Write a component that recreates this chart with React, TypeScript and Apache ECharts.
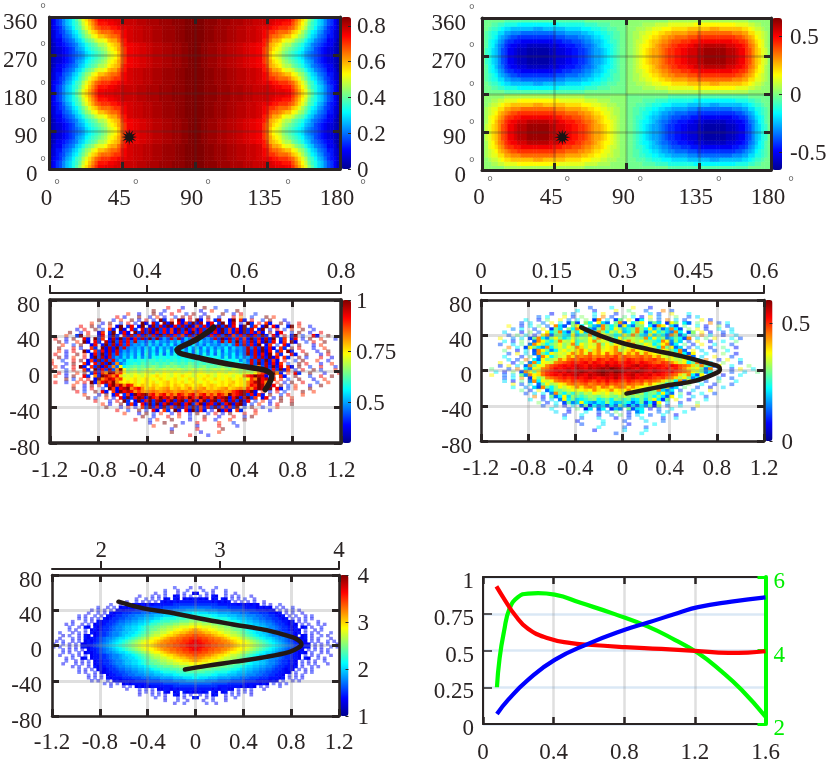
import React, { useEffect, useRef } from "react";
import * as echarts from "echarts";

const FONT = "Liberation Serif";
const INK = "#2a2424";
const JET = ["#00008f", "#0000ff", "#0080ff", "#00ffff", "#80ff80", "#ffff00", "#ff8000", "#ff0000", "#800000"];
const LEVELS = "0123456789abcdefghijklmnopqrstuvwxyz";
const HALF_LEVELS: Record<string, number> = { A: 31.5, B: 32.5, C: 33.5, D: 34.5 };

const topRatioTicks = [0.2, 0.4, 0.6, 0.8];
const topCoreTicks = [0, 0.15, 0.3, 0.45, 0.6];
const topSpeedTicks = [2, 3, 4];
const barMagnitudeTicks = [0, 0.2, 0.4, 0.6, 0.8];
const barProductTicks = [-0.5, 0, 0.5];
const barRatioTicks = [0.5, 0.75, 1];
const barCoreTicks = [0, 0.5];
const barSpeedTicks = [1, 2, 3, 4];

// top-left map: half-rows, theta 1..89 (2 deg), phi 5..85 (10 deg)
const magnitudeHalf = [
  "24679bcegilnprt" + "vvAAAwwwBBBBxxxCCCCyyyyDDDDzzz",
  "24679bcefhkmoqs" + "uuuvvAwwBBBBxxxCCCCyyyyDDDDzzz",
  "24568abdfgjlnpr" + "stttuuvvAwwBBBxxxCCCyyyyDDDzzz",
  "235679acdfhjlno" + "qrrrsttuvwwBBBxxxCCCyyyyDDDzzz",
  "2355789bcegijlm" + "oopqrrsuvwwBBBxxxCCCyyyyDDDzzz",
  "13446789bceghik" + "llmopprtuwwBBBxxxCCCyyyyDDDzzz",
  "124456789bcefgh" + "jjkmnopsuvvAAwwBBxxxCCCyyyDDzz",
  "123345679abdefg" + "hijlmnprtvvAAwwBBxxxCCCyyyDDzz",
  "1233456789acdef" + "ghiklmortvvAAwwBBxxxCCCyyyDDzz",
];

// top-right map: half-rows for theta<90, phi<180; other quadrants change sign
const productHalf = [
  "iiiiiii" + "jjjjjjjjjjjjjjjjjjjjjjjjj" + "iiiiiiiiiiiii",
  "iiijjkkllll" + "mmmmmmmmmmmmm" + "llllllll" + "kkkk" + "jjjj" + "iiiii",
  "iijkklmnn" + "ooooooo" + "ppp" + "ooooooo" + "nnnnn" + "mmm" + "lll" + "kk" + "jjj" + "iii",
  "ijkllnnppqqq" + "rrrrrrrrrrr" + "qqq" + "ppppp" + "oo" + "nn" + "mm" + "ll" + "kk" + "jj" + "ii",
  "ijklmopqrss" + "tttttttttttt" + "sss" + "rrrr" + "qq" + "pp" + "o" + "nn" + "m" + "ll" + "k" + "jj" + "ii",
  "ijlmnpqsttuu" + "vvvvvvvvvv" + "uuu" + "ttt" + "sss" + "r" + "qq" + "p" + "oo" + "n" + "m" + "l" + "kk" + "j" + "ii",
  "ijlmoqrtuvv" + "www" + "xxxxxxx" + "www" + "vv" + "uuu" + "tt" + "s" + "rr" + "q" + "p" + "o" + "n" + "mm" + "l" + "k" + "j" + "ii",
  "iklnoqstvvw" + "xxx" + "yyyyyyy" + "xx" + "www" + "vv" + "uu" + "tt" + "s" + "r" + "q" + "pp" + "o" + "n" + "m" + "l" + "k" + "j" + "ii",
  "iklnoqstvvw" + "xxx" + "yyyyyyy" + "xx" + "www" + "vv" + "uu" + "tt" + "s" + "r" + "q" + "pp" + "o" + "n" + "m" + "l" + "k" + "j" + "ii",
];

// mid-left histogram rows, top to bottom, centred on the panel
const ratioRows = [
  "v...4.....z..6..",
  "..z..5...v.....4..t...6..z.",
  "t..4...z.5..v...6.y..4....z..5.v...6.",
  "..v.4...z..5.t.4..6.y.w..4.z..5...v.q..6...z.t..",
  "z...5.t..z.4.v.5.z6.t.y4.w.z5.v.6x..4z.t5.v..6.z...4.",
  ".t..4.z..6.v.5.z4.w6.y5z.v4t6z5x.4v.6z.5w.4.z6.v.t5..z.4..v.",
  "v..z.5..t.4z.6v.5z.4y6w5z4v6x5z4t6v5w4z6y5v.4z.6t.5z.v4..6z.t..5",
  "..4.v..z.6.t5.z4.v6.w5x4z6v5t4y6z5v4w6v5x4z6t5v4z6w.5z.4.v.6.t..z..5.",
  ".z..5.v..4t.6z.5v4.z6x5y4w6v5t4x6v4z5w6y5v4z6t5x4z6v5t4.z.5v..6.z..4..v",
  "..t..6z.t..4v.5z6.w4x6v5y6w4z6x5v6t4y5z6w4v5x6z4t6v5y4w6z5.v4.x.5z.6..v4..z.",
  ".v..4.z..v5.z6t.4x5z6w4v6x5z7y6a7w8x6b8v7c8a7w6z5x7v6t5z6v4x5z.6t.4v.5.z..t...5",
  "..z.5..t.z4.v6.x5z7w6v8x9a7b8c9a8b9c7a9b8c9a8b7x9w8z7v6x5t4z6v.5t.z4..6.v..z...",
  ".t..6.z..4v.5z6x5w7v8a9b8c9b8c9d8b9c8d9b8c9a8b9c8w7x6v5z.4t.6.v5..z...4.t...",
  "z...v.5..t6.z4x5z7w8a9b8c9d8c9b8d9c8d9c8d9c8b9d8c9a7x8w6z5v4.t6.z.v...5..t..",
  "..t.4.v..z5.t6v4x5w7a8b9c8d9c8d9e8d9c9d8e9c8d9e8d9b8a7x6w5z4v.6t.z5..v...4..z..",
  ".v..5..z.t.4v6z5x7w8b9c9d8e9d9e8d9e9d9e8d9e9d8e9c9d8b7y6w5v4z.t6..v5..z...4.v...",
  "..z.4.t..v.5z6x4w7a8c9d9e9d9edeedeededeedededed9e9d9c8a7w6x5z4v.t6..z.5...v..4..",
  ".t..6..v.z.4t5z6x7w9c9dedefeffefefefefefefefefefedede9c8w7x6z5t4.v..6.z...t..5...",
  "v...5.z..t4.v6x5z7q8bdefegfgfgfgfhgfgfhgfgfgfgfgfefedb9w7z6x5v4t.6..z.v...4..t..",
  "..t.4..v.z5.t6z4x7q8mdfghghghihghihihghihghighghihghghgfd9q7x6z5v.t4.z..6..v...5..",
  ".z...6.v..t5.z4v6x7qzmhijhijkjijkjkjkjijkjkjijkjkjikjijhjhmqx7v6z4t.5.v..z.6...t..",
  "..v.5..t.z.6v4tqzxqtmjkljklkjlkmlkmlklmklmlklkmlkmlkjlkjmqtxvzq5.t.v6..z...4...v",
  ".t..4.z..v6.q5zxtqvnklkmlkmlmnlmlkmlnmlkmlmnlkmlmlkmlqtvzxw4.v.t5..z...6..v..z..",
  "..z.6.t.v.4zqtxvqtmlmnlmnmlmnmlmnlmlnmlmnmlnmlmnlmnlmtqzvx5t.v.6..z...4..t.",
  ".v..5..t.v.z5qvxtzqnmnmnlmnmnlmnomnmnlmnmlmnmlmnmnomnmqtxzvq4.t.5.z..v...6..t..",
  "..t..4.z.t.6vztxqvtnmonmonmnomonmonmnomnonmnmonmnmqvtzxq5v.z.6.t...4..z.",
  ".z..5.v..6.zt4vxzqtvqnopnopqnopnoqnopqnonopqnopqotqvzx4z.v5.6.t...z...",
  "..v.6..z.v5.t4zvxvqtqpqrqpqrqpqrqpqrqpqpqrqpqtvxzvz4.t.5.v.6....z..t..",
  ".t...4.z.5v.6t4zvxztvqtvqtqvtqtvqtvqtqvtqztvxz6v4t5.z..6.v...t..",
  "..z.6..t.4.v5z6vzx4zvtzvxtzvxtzvtzvxtzvxz4vz5xz6t.4v.5.z..t....",
  ".v...5.v.z6.4z5vz6xz4vz5xz6vz4tz5xz6vz5x6z4v.6.t.5..z..v.",
  "..t.4..z.6t5.v4z6z5vz4xz5vz6tz4xv5z6vz4xz5.6.t..4.v...z.",
  ".z...5.v.4.t6z5v4z6t5z4v6z5t4v6z5t4v6z.6.z..5...t...",
  "..v..6..z.5.v4.t6.z5.v4z6t5.4.z5v4.t6...v...5..",
  ".t...4.z.6.t..5.v..4.z..6.v.5.z...v..t...",
  "..z..5...v..t..6...z...4...v..5.z.",
  "v...6.t...z....4...v..5...t...z..",
  "..4...z....5...v.....t...6...",
  ".t.....z.....4.....v....5.",
  "...5......v......z..",
  ".z.......4....t.",
  "...v....5",
];

// mid-right histogram rows
const coreRows = [
  "7....d....m...5",
  "..d...6....m..h...8...q.7",
  "5..h.9....d.m..6...i...c.7..m...d.",
  ".8.d...m.6.i..c.q.7..h.d.5.m.9...i..7.c..",
  "d..6.h..m.9.d.i.6q.c.7h.m.5d.i.8.q.c.7...m.6..",
  "..7.c..9.m.d.7h6.id.mc8.hq7.dim.9hc.6mi.d8.h..q.7.d.",
  ".m..6.d.h.8.qc7.imd.hb9qhdi7mc8hi.d6qm.c7.h..d.5..i.7..",
  "..9.d..7.m.6hc.idqmhb8iqhdmicfhqidmbh8cqd7.i.m.6..d..c..",
  ".c...5.i.8.mdhqc7idmbhfqidkhmbdiqh8fmdhc9qd.7i.m.5..7.d..",
  "..7.h.d.6.mq8hidcmbfhqdimkhdfmhqidbmchd8qi7d.h.q.d..5..c..",
  ".m..9.c.7hqd9imhcfkhjimhqkijfmhjkihqdmfi9chd7q.c.h.m...d.7..",
  "..d.6.i..8qmhdiqkjmfhimqjlkfijmqkjmhifdqm9ic.7.m..5..d..h..",
  "7..c.h.9qmidhjmikqfmjlkqimjmlkfqjimkdhmq8d.h.6.m..d...7..",
  "..q.d.7mhc9qdjlimkqnjmlqkmnqljmkqmiljdqhm8c.7.c..6..h..5.",
  ".h..5.d.7qmh9dkmjlnqmjnqlmnqjlnqmlnqkjmlhdq8.m.c..7..d...",
  "..7.m.c.8qhdmjlkmqnqlrnqmrnqrmqnrlqnmlkjmhqd7m..d...i..5.",
  ".d...6.h.9qmdiklqnrqrsqrqsrtqsrqrsqrnqlkmidhq8.c..m...7..",
  "..c.7.q.d8mhjkqnrsrtstrutsutrsutstrstrqnlkjmh9d.q..6.m..d.",
  ".m..5.h.9qdmlkqrstutuvtvutvuvtuvutvutsrtsqnkmdhq7.c..i...7..",
  "..6.m.c.8qhmlqstuvuvwvuwvwvxvwvuvwxvwvuvutvusrqnjqhd7m..d...i.",
  ".h...7.q.d9mkqrtvuvwvxwvxwxyxzyxwxwvxwvwvuvtusqnkmh8q.c..6.m..d.",
  "..d.5.i.7qmhnrtuvwvxwxyxwxyzyxzyxwxyxwvxwvuvtsrqmkh9d.q..7..c..h",
  ".m..8.c.h9qmnrtuvuwvwxwvxwxyxwxwvwxvwvwuvutsrnkqd7m.h..5...d...",
  "..7.d.q.6mhkqrstutuvuvwvuvwvxvuvwvuvutstrqnjmh9d.i..c..7...",
  ".c.5.h.9qdmkmqrsrtstutsutvtutsutstrsrqnkjdq8m.c.7..h...d.",
  "..m.7.d.8hmjkmnqrqrsqrsrtrsrqsrqrnqmkjdhq7.i..d..6...7.",
  ".d..9.c7qhdimkmnqnqrqnrqnqrqnqnmlkihdm8c.h..7..5..c..",
  "..h.6.m.8dihjkmlmnmqnmnqmnmqmlkjhiqc9d.7..c...m....",
  ".7.c.d.9qhdifjhkjmlkmjlmkjmhjfhidmc8.h.5..d..7..",
  "..q.5.h8dmcihfhjihjkihjkihjhfhdic7m.d..c..7..",
  ".d..7.c.9mdhcdfhidfhdihfhcdhcimd6h.m..5...d...",
  "..i.6.d.7h9cmdb9dcidbcfd8ch7d6m.c..7...h...",
  ".7..c.5.d.8h6d9c7d8hc6c7d9h5i.7..d...m..",
  "..d...7.h.5c.8d.6b9.h7cd.5.8..d....7.",
  ".c..5...d..7.b.i..6.9d...8.c...d..",
  "..7...d...5..9.h.6.c..7..d..5..",
  "d...8...c...5..7..d....6..c.",
  "..5.....d....7....c...8..",
  ".7....c.....5.....d...",
  "...d.....8....7...",
  ".5......c....d.",
  "...7.....d",
];

// bottom-left histogram half-rows, from the panel centre outwards
const speedTop = [
  ".4....5",
  "..5..4...5.",
  "4..5.4...5..4.",
  ".5.4.54..5.4.5...4.",
  "5454.45.54.5.4.5..4",
  "555554545" + "45" + ".4.5.4.5..4.",
  "6666666555555" + "454545" + "4.5.4..5..",
  "8888877777666665555" + "4545" + "4.5.4..5",
  "aaa9999888877776666555" + "454" + ".5.4.5.4",
  "d" + "cccbbbaaaa999888777666" + "55" + "45" + ".4.5..4.",
  "eeeeedd" + "cccbbbaaa9998877665" + "4" + "5.4.5..4.5",
  "gggfffeeeed" + "ccbbbaa998877665" + "45" + ".5.4.5.4",
  "iihhhgggfffeed" + "ccbbaa99887665" + "54" + "5.4.5...4",
  "kkjjjiihhhggffed" + "ccbbaa9987665" + "45" + "4.5.4..5.4",
  "mmlllkkjjiihhggfed" + "ccbba9987665" + "4" + "5.45.4..5",
  "ponnm" + "mlkkjjihhgfed" + "ccbba9987665" + "45" + "4.5..4.5.",
  "qqpoonnm" + "lkkjjihgfed" + "ccbba9987665" + "4" + "5.4.5.4...5",
  "srrqqponnm" + "lkkjihgfed" + "ccba9987665" + "4" + ".45.4..5.3",
  "ttssrrqqponmm" + "lkjihgfed" + "ccba998765" + "54" + "5.4.5...4",
  "vuttssrrqqponmm" + "lkjihgfed" + "cba98765" + "45" + "4.5.4..5.4",
  "vvuttssrrqqponmm" + "lkjihgfed" + "cba98765" + "54" + "4.5.4.5..4",
];
const speedBottom = [
  "vvuttssrrqqponmm" + "lkjihgfed" + "cba98765" + "45" + "5.4.4..5.4",
  "vuttssrrqqponmm" + "lkjihgfed" + "cba98765" + "54" + ".4.5.4.5..",
  "ttssrrqqponmm" + "lkjihgfed" + "ccba998765" + "45" + "4.5..4.5.",
  "srrqqponnm" + "lkkjihgfed" + "ccba9987665" + "5" + "4.5.4.5...4",
  "qqpoonnm" + "lkkjjihgfed" + "ccbba9987665" + "5" + "4.54..5.4.",
  "ponnm" + "mlkkjjihhgfed" + "ccbba9987665" + "54" + ".5.4.4..5",
  "mmlllkkjjiihhggfed" + "ccbba9987665" + "5" + "4.5.4.5...4",
  "kkjjjiihhhggffed" + "ccbbaa9987665" + "54" + "5.4..5.4.",
  "iihhhgggfffeed" + "ccbbaa99887665" + "45" + "4.5.4.5..",
  "gggfffeeeed" + "ccbbbaa998877665" + "54" + "4.5..4.5",
  "eeeeedd" + "cccbbbaaa9998877665" + "5" + "4.5.4.5...",
  "d" + "cccbbbaaaa999888777666" + "55" + "54" + "5.4.5.4",
  "aaa9999888877776666555" + "545" + "4.5..4.5",
  "8888877777666665555" + "5454" + ".5.4.5",
  "6666666555555" + "545454" + ".5.4...5",
  "555554545" + "54" + "4.5.4.5...4.",
  "4545.54.45.5.4.5.4.",
  ".4.5.45..4.5.5...4",
  "5..4.5...4..5.",
  "..4..5...4.",
  "...5..4",
];

const ratioCurveX = [0.149, 0.107, 0.011, -0.113, -0.14, -0.154, -0.14, -0.113, 0.039, 0.314, 0.562, 0.611, 0.63, 0.622, 0.603, 0.575];
const ratioCurveY = [49.5, 44.7, 36.1, 27.9, 26, 24.2, 21.6, 19.7, 14.9, 7.4, 1.9, -1.1, -4.8, -9.3, -14.5, -20.5];
const coreCurveX = [-0.35, -0.18, -0.01, 0.217, 0.5, 0.755, 0.818, 0.826, 0.798, 0.614, 0.387, 0.217, 0.033];
const coreCurveY = [48.9, 39, 31.5, 24.3, 16.3, 7.2, 4.2, 1.1, -2.7, -11.8, -16.7, -21.2, -26.2];
const speedCurveX = [-0.644, -0.435, -0.213, 0.037, 0.316, 0.594, 0.816, 0.872, 0.886, 0.858, 0.788, 0.594, 0.316, 0.093, -0.088];
const speedCurveY = [49.7, 42.1, 37.5, 30.7, 23.9, 17.4, 9.1, 4.9, 1.1, -2.7, -7.2, -12.9, -18.6, -23.1, -27.3];

const redX = [0.076, 0.123, 0.18, 0.255, 0.368, 0.5, 0.595, 0.803, 1.01, 1.2, 1.39, 1.5, 1.6];
const redY = [0.936, 0.845, 0.743, 0.648, 0.584, 0.55, 0.539, 0.523, 0.511, 0.498, 0.484, 0.486, 0.495];
const blueX = [0.079, 0.142, 0.255, 0.406, 0.595, 0.803, 0.935, 1.105, 1.218, 1.407, 1.6];
const blueY = [0.068, 0.164, 0.3, 0.436, 0.545, 0.641, 0.69, 0.755, 0.795, 0.832, 0.861];
const greenX = [0.079, 0.094, 0.119, 0.151, 0.198, 0.255, 0.312, 0.406, 0.557, 0.746, 0.935, 1.086, 1.218, 1.351, 1.464, 1.6];
const greenY = [3.0, 3.79, 4.52, 5.15, 5.45, 5.55, 5.56, 5.52, 5.29, 4.99, 4.65, 4.29, 3.93, 3.43, 2.93, 2.2];

const zipXY = (xs: number[], ys: number[]) => xs.map((x, i) => [x, ys[i]]);
const rev = (s: string) => s.split("").reverse().join("");
const lv = (c: string) => (c in HALF_LEVELS ? HALF_LEVELS[c] : LEVELS.indexOf(c));

function starPath() {
  let d = "";
  for (let i = 0; i < 24; i++) {
    const r = i % 2 === 0 ? 10 : 4.6;
    const a = (i * Math.PI) / 12;
    d += `${i === 0 ? "M" : "L"}${(10 + r * Math.sin(a)).toFixed(2)} ${(10 - r * Math.cos(a)).toFixed(2)}`;
  }
  return "path://" + d + "Z";
}

function buildOption() {
  const grid: any[] = [];
  const xAxis: any[] = [];
  const yAxis: any[] = [];
  const series: any[] = [];
  const visualMap: any[] = [];
  const graphic: any[] = [];

  const label = (margin: number, padding: number[], extra: any = {}) => ({
    show: true, margin, padding, fontFamily: FONT, fontSize: 23, color: INK, ...extra,
  });
  // y labels sit a little below their ticks in the reference
  const lowered = (margin: number, lh: number, extra: any = {}) =>
    label(margin, [0, 0, 0, 0], { verticalAlign: "top", lineHeight: lh, ...extra });
  const frameAxis = (lw: number, tickLen: number, tickW: number) => ({
    axisLine: { show: true, onZero: false, lineStyle: { color: INK, width: lw } },
    axisTick: { show: true, inside: true, length: tickLen, lineStyle: { color: INK, width: tickW } },
    axisLabel: { show: false },
    z: 5,
  });

  function panel(o: any) {
    const g = grid.length;
    grid.push({ left: o.x, top: o.y, width: o.w, height: o.h, show: false });
    const first = { xc: xAxis.length, yc: yAxis.length };
    const catX = Array.from({ length: o.cols }, (_, i) => i);
    const catY = Array.from({ length: o.rows }, (_, i) => i);
    xAxis.push({ type: "category", gridIndex: g, show: false, data: catX });
    yAxis.push({ type: "category", gridIndex: g, show: false, data: catY });
    const f = frameAxis(o.lw, o.tl, o.tw);
    const split = { show: true, lineStyle: { color: o.gridColor, width: o.gridW } };
    xAxis.push({ type: "value", gridIndex: g, position: "bottom", min: o.xMin, max: o.xMax, interval: o.xInt, ...f,
      axisLabel: label(o.xm, o.xp), splitLine: split });
    yAxis.push({ type: "value", gridIndex: g, position: "left", min: o.yMin, max: o.yMax, interval: o.yInt, ...f,
      axisLabel: lowered(o.ym, o.ylh), splitLine: split });
    xAxis.push({ type: "value", gridIndex: g, position: "top", min: o.xMin, max: o.xMax, interval: o.xInt, ...f, splitLine: { show: false } });
    yAxis.push({ type: "value", gridIndex: g, position: "right", min: o.yMin, max: o.yMax, interval: o.yInt, ...f, splitLine: { show: false } });

    if (o.top) {
      xAxis.push({
        type: "value", gridIndex: g, position: "top", offset: o.top.offset, min: o.top.min, max: o.top.max,
        axisLine: { show: true, onZero: false, lineStyle: { color: INK, width: 2 } },
        axisTick: { show: true, length: 8, lineStyle: { color: INK, width: 2 }, customValues: o.top.ticks },
        axisLabel: label(o.top.margin, [0, 0, 0, 0], { customValues: o.top.ticks }),
        splitLine: { show: false }, z: 5,
      });
    }

    const seriesIdx: number[] = [];
    for (const part of o.parts) {
      seriesIdx.push(series.length);
      series.push({
        type: "heatmap", xAxisIndex: first.xc, yAxisIndex: first.yc, data: part.data,
        progressive: 0, silent: true, itemStyle: { opacity: part.opacity, borderWidth: 0 }, z: 2,
        emphasis: { disabled: true },
      });
    }
    visualMap.push({
      type: "continuous", seriesIndex: seriesIdx, dimension: 2, min: o.min, max: o.max, show: true,
      left: o.x + o.w + o.barGap, top: o.y, itemWidth: o.barW, itemHeight: o.h, padding: 0,
      calculable: false, hoverLink: false, text: null, inRange: { color: JET }, borderWidth: 0, z: 4,
    });

    const cb = grid.length;
    grid.push({ left: o.x + o.w + o.barGap, top: o.y, width: o.barW, height: o.h, show: false });
    xAxis.push({ type: "value", gridIndex: cb, show: false, min: 0, max: 1 });
    yAxis.push({
      type: "value", gridIndex: cb, position: "right", min: o.min, max: o.max,
      axisLine: { show: false, onZero: false },
      axisTick: { show: true, inside: true, length: 3, lineStyle: { color: INK, width: 1 }, customValues: o.barTicks },
      axisLabel: label(o.barM, [0, 0, 0, 0], { customValues: o.barTicks, lineHeight: 14, formatter: (v: number) => String(v) }),
      splitLine: { show: false }, z: 5,
    });

    if (o.curve) {
      series.push({
        type: "line", xAxisIndex: first.xc + 1, yAxisIndex: first.yc + 1, data: o.curve, smooth: 0.4,
        symbol: "none", z: 10, silent: true, lineStyle: { color: "#231815", width: o.curveW, cap: "round", join: "round" },
      });
    }
    if (o.star) {
      series.push({
        type: "scatter", xAxisIndex: first.xc + 1, yAxisIndex: first.yc + 1, data: [o.star], symbol: starPath(),
        symbolSize: 16, z: 10, silent: true, itemStyle: { color: "#1a1414", opacity: 1 },
      });
    }
  }

  const fromRows = (rows: string[], lo: number, hi: number) => {
    const d: number[][] = [];
    rows.forEach((row, j) => {
      for (let i = 0; i < row.length; i++) d.push([i, j, lo + (lv(row[i]) / 35) * (hi - lo)]);
    });
    return [{ data: d, opacity: 1 }];
  };
  const magRows: string[] = [];
  for (let k = 0; k < 2; k++) {
    for (let j = 0; j < 18; j++) {
      const h = magnitudeHalf[j < 9 ? j : 17 - j];
      magRows.push(h + rev(h));
    }
  }
  const inv = (s: string) => s.split("").map((c) => LEVELS[35 - lv(c)]).join("");
  const prodRows: string[] = [];
  for (let k = 0; k < 2; k++) {
    for (let j = 0; j < 18; j++) {
      const h = productHalf[j < 9 ? j : 17 - j];
      const row = h + rev(inv(h));
      prodRows.push(k === 0 ? row : inv(row));
    }
  }

  const scattered = (rows: string[], lo: number, hi: number, COLS: number, ROWS: number) => {
    const pad = (ROWS - rows.length) / 2;
    const blanks = Array.from({ length: pad }, () => "");
    const all = [...blanks, ...rows, ...blanks];
    const core: number[][] = [], stray: number[][] = [];
    const blank = (c: string | undefined) => c === undefined || c === "." || c === " ";
    all.forEach((row, r) => {
      const start = Math.floor((COLS - row.length) / 2);
      for (let k = 0; k < row.length; k++) {
        if (blank(row[k]) || start + k < 0 || start + k >= COLS) continue;
        const p = [start + k, ROWS - 1 - r, lo + (lv(row[k]) / 35) * (hi - lo)];
        (blank(row[k - 1]) && blank(row[k + 1]) ? stray : core).push(p);
      }
    });
    return [{ data: core, opacity: 1 }, { data: stray, opacity: 0.5 }];
  };
  const mirror = (rows: string[]) => rows.map((h) => rev(h) + h);

  const angleCommon = {
    xMin: 0, xMax: 180, xInt: 45, yMin: 0, yMax: 360, yInt: 90, lw: 3, tl: 7, tw: 3,
    gridColor: "rgba(60,50,50,0.26)", gridW: 2.5, cols: 90, rows: 36, barW: 10,
    xp: [0, 6, 0, 0], ylh: 9,
  };
  panel({ ...angleCommon, x: 49, y: 17, w: 291, h: 152, xm: 17, ym: 12, barGap: 1, barM: 6,
    min: 0, max: 0.85, barTicks: barMagnitudeTicks,
    parts: fromRows(magRows, 0, 0.85), star: [49.4, 75.5] });
  panel({ ...angleCommon, x: 482, y: 18, w: 289, h: 152, xm: 15, ym: 16, barGap: 1, barM: 8,
    min: -0.65, max: 0.66, barTicks: barProductTicks,
    parts: fromRows(prodRows, -0.65, 0.66), star: [50, 77.5] });

  const devCommon = {
    xMin: -1.2, xMax: 1.2, xInt: 0.4, yMin: -80, yMax: 80, yInt: 40, tl: 7, tw: 3,
    gridColor: "rgba(130,130,130,0.26)", gridW: 3,
    xp: [0, 0, 0, 0], ylh: 8,
  };
  panel({ ...devCommon, cols: 80, rows: 46, x: 50, y: 300, w: 291, h: 143, lw: 3.5, xm: 15, ym: 10, barGap: 1, barW: 9, barM: 5,
    min: 0.3, max: 1, barTicks: barRatioTicks,
    top: { min: 0.2, max: 0.8, ticks: topRatioTicks, offset: 7, margin: 11 },
    parts: scattered(ratioRows, 0.3, 1, 80, 46), curve: zipXY(ratioCurveX, ratioCurveY), curveW: 5.5 });
  panel({ ...devCommon, cols: 66, rows: 46, x: 481, y: 300, w: 283, h: 141, lw: 2.5, xm: 15, ym: 9, barGap: 0.5, barW: 8, barM: 9,
    min: 0, max: 0.6, barTicks: barCoreTicks,
    top: { min: 0, max: 0.6, ticks: topCoreTicks, offset: 7, margin: 11 },
    parts: scattered(coreRows, 0, 0.6, 66, 46), curve: zipXY(coreCurveX, coreCurveY), curveW: 4.5 });
  panel({ ...devCommon, cols: 90, rows: 50, x: 52, y: 575, w: 287, h: 141, lw: 2.5, xm: 14, ym: 10, barGap: 0.5, barW: 9, barM: 9,
    min: 1, max: 4, barTicks: barSpeedTicks,
    top: { min: 1.586, max: 4, ticks: topSpeedTicks, offset: 6, margin: 8 },
    parts: scattered([...mirror(speedTop), ...mirror(speedBottom)], 1, 4, 90, 50),
    curve: zipXY(speedCurveX, speedCurveY), curveW: 4.5 });

  const g6 = grid.length;
  grid.push({ left: 483, top: 577, width: 282.5, height: 147, show: false });
  const x6 = xAxis.length, y6 = yAxis.length;
  xAxis.push({ type: "value", gridIndex: g6, position: "bottom", min: 0, max: 1.6, interval: 0.4,
    ...frameAxis(2, 7, 2.5), axisLabel: label(16, [0, 0, 0, 0]),
    splitLine: { show: true, lineStyle: { color: "rgba(130,130,130,0.26)", width: 2.5 } } });
  xAxis.push({ type: "value", gridIndex: g6, position: "top", min: 0, max: 1.6, interval: 0.4,
    ...frameAxis(2, 7, 2.5), splitLine: { show: false } });
  yAxis.push({ type: "value", gridIndex: g6, position: "left", min: 0, max: 1, interval: 0.25,
    ...frameAxis(2, 9, 1.5), axisLabel: lowered(9, 7),
    splitLine: { show: true, lineStyle: { color: "rgba(150,190,225,0.35)", width: 2.5 } } });
  yAxis.push({ type: "value", gridIndex: g6, position: "right", min: 2, max: 6, interval: 2,
    axisLine: { show: true, onZero: false, lineStyle: { color: "#00ff00", width: 4 } },
    axisTick: { show: true, inside: true, length: 8, lineStyle: { color: "#00ff00", width: 3 } },
    axisLabel: lowered(8, 7, { color: "#00ee00" }),
    splitLine: { show: false }, z: 6 });
  const lineStyle = (color: string) => ({ color, width: 4.2, cap: "butt", join: "round" });
  series.push({ type: "line", xAxisIndex: x6, yAxisIndex: y6 + 1, data: zipXY(greenX, greenY), smooth: 0.5, symbol: "none", silent: true, z: 8, lineStyle: lineStyle("#00ff00") });
  series.push({ type: "line", xAxisIndex: x6, yAxisIndex: y6, data: zipXY(redX, redY), smooth: 0.5, symbol: "none", silent: true, z: 9, lineStyle: lineStyle("#ff0000") });
  series.push({ type: "line", xAxisIndex: x6, yAxisIndex: y6, data: zipXY(blueX, blueY), smooth: 0.5, symbol: "none", silent: true, z: 10, lineStyle: lineStyle("#0000ff") });

  const deg = (x: number, y: number) =>
    graphic.push({ type: "text", x, y, silent: true, style: { text: "°", font: `14px ${FONT}`, fill: "#555", textAlign: "center", textVerticalAlign: "middle" } });
  [57, 135.7, 208, 288, 363].forEach((x) => deg(x, 184));
  [490, 567.3, 640.3, 718.7, 791].forEach((x) => deg(x, 181));
  [6.3, 44.3, 83.3, 120.7, 159.3].forEach((y) => deg(43, y + 2));
  [7.3, 45.3, 84.3, 122, 160].forEach((y) => deg(471.7, y + 2));

  return { animation: false, backgroundColor: "#ffffff", textStyle: { fontFamily: FONT }, tooltip: { show: false }, grid, xAxis, yAxis, series, visualMap, graphic };
}

export default function App() {
  const ref = useRef<HTMLDivElement>(null);
  useEffect(() => {
    const chart = echarts.init(ref.current!, undefined, { renderer: "svg" });
    chart.setOption(buildOption() as any);
    return () => chart.dispose();
  }, []);
  return <div ref={ref} style={{ position: "absolute", left: 0, top: 0, width: 831, height: 763, filter: "blur(0.45px)" }} />;
}
